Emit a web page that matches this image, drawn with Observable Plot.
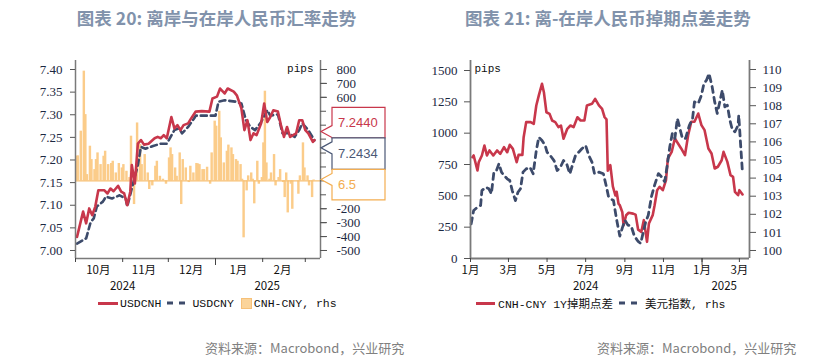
<!DOCTYPE html>
<html><head><meta charset="utf-8">
<script src="https://cdn.jsdelivr.net/npm/d3@7"></script>
<script src="https://cdn.jsdelivr.net/npm/@observablehq/plot@0.6"></script>
<style>
body{margin:0;width:833px;height:359px;position:relative;background:#fff;overflow:hidden;font-family:"Noto Sans CJK SC",sans-serif}
.title{position:absolute;top:8px;line-height:20px;font-size:17.5px;font-weight:bold;color:#8192ab;white-space:nowrap;text-align:center}
.chart{position:absolute;top:0}
.legend{position:absolute;top:296px;height:14px;display:flex;align-items:center;font-family:"Liberation Mono","Noto Sans CJK SC",monospace;font-size:11.5px;color:#111;white-space:nowrap}
.src{position:absolute;top:339px;line-height:18px;font-size:13px;color:#808080;white-space:nowrap}
.sw{display:inline-block}
</style></head><body>
<div class="title" style="left:0;width:433px">图表 20: 离岸与在岸人民币汇率走势</div>
<div class="title" style="left:416px;width:384px">图表 21: 离-在岸人民币掉期点差走势</div>
<div id="c1" class="chart" style="left:0"></div>
<div id="c2" class="chart" style="left:416px"></div>
<div class="legend" style="left:98px">
  <span class="sw" style="width:20px;height:3px;background:#c8374b;margin-right:2px"></span>USDCNH
  <svg class="sw" width="22" height="4" style="margin:0 3px 0 6px"><line x1="0" y1="2" x2="22" y2="2" stroke="#3d4b6b" stroke-width="3" stroke-dasharray="6,6"/></svg>USDCNY
  <span class="sw" style="width:9px;height:9px;background:#fbd49a;border:1px solid #f6c078;margin:0 2px 0 7px"></span>CNH-CNY, rhs
</div>
<div class="legend" style="left:476px">
  <span class="sw" style="width:19px;height:3px;background:#c8374b;margin-right:3px"></span>CNH-CNY 1Y掉期点差
  <svg class="sw" width="20" height="4" style="margin:0 6px 0 6px"><line x1="0" y1="2" x2="20" y2="2" stroke="#3d4b6b" stroke-width="3" stroke-dasharray="6,6"/></svg>美元指数, rhs
</div>
<div class="src" style="left:205px">资料来源：Macrobond，兴业研究</div>
<div class="src" style="left:597px">资料来源：Macrobond，兴业研究</div>
<script>
// ---------- Chart 20 data (days since 2024-10-01) ----------
const cnhDay = [1,5,7,9,11,13,15,19,21,23,25,28,30,32,34,36,37,39,41,43,45,48,52,54,56,58,60,63,65,67,69,71,74,76,79,83,88,90,93,95,98,100,104,106,109,111,113,115,117,119,122,124,126,128,130,133,135,137,139,141,145,147,149,151,153,156,157];
const cnhVal = [7.030,7.086,7.060,7.093,7.078,7.097,7.133,7.133,7.126,7.137,7.131,7.143,7.130,7.126,7.100,7.130,7.189,7.148,7.236,7.244,7.234,7.236,7.248,7.251,7.248,7.255,7.248,7.295,7.270,7.277,7.266,7.277,7.281,7.292,7.307,7.308,7.307,7.336,7.340,7.358,7.347,7.358,7.351,7.343,7.314,7.266,7.288,7.244,7.259,7.255,7.281,7.325,7.284,7.295,7.310,7.307,7.277,7.251,7.273,7.251,7.259,7.288,7.288,7.266,7.259,7.240,7.244];
const cnyDay = [1,7,10,12,14,18,20,24,29,33,34,37,41,43,46,51,56,60,65,68,70,74,78,79,92,94,98,105,109,112,115,118,122,126,128,133,136,140,144,147,149,153,157];
const cnyVal = [7.015,7.027,7.063,7.071,7.097,7.108,7.119,7.115,7.122,7.115,7.097,7.137,7.189,7.229,7.225,7.231,7.236,7.236,7.266,7.270,7.259,7.273,7.292,7.298,7.298,7.329,7.332,7.329,7.325,7.288,7.273,7.266,7.284,7.310,7.298,7.301,7.259,7.259,7.251,7.266,7.281,7.266,7.2434];
const barDay = [0,1,3,5,6,7,9,10,12,13,14,16,18,19,21,23,24,26,28,30,31,33,35,36,38,40,42,43,45,47,48,50,52,53,55,57,58,59,61,62,63,65,66,68,69,70,72,74,75,77,79,80,81,83,84,86,88,89,91,92,94,95,97,99,100,102,103,105,106,108,109,110,112,113,115,116,117,119,120,122,123,124,125,127,128,130,131,133,134,136,137,138,139,141,142,144,146,147,149,150,152,153,155,156];
const barVal = [177,180,357,788,476,45,249,153,81,153,201,117,177,213,117,125,141,57,125,93,117,69,24,321,-170,416,261,117,189,57,-62,-36,105,141,33,12,0,-24,165,237,189,93,33,201,-170,153,93,-12,105,57,125,122,117,81,81,98,-24,201,429,393,500,309,129,213,257,237,189,153,141,117,12,-409,-72,36,57,12,-165,141,-24,24,273,644,129,12,57,189,-36,24,81,-12,-120,57,-230,-24,-204,0,-96,36,273,93,36,-36,-120,6.5];
const leftTicks1 = [7.00,7.05,7.10,7.15,7.20,7.25,7.30,7.35,7.40];
const rightTicks1 = [-500,-400,-300,-200,-100,0,100,200,300,400,500,600,700,800];
const rightLabels1 = [-500,-400,-300,-200,600,700,800]; // the others sit behind the value boxes
const monthStarts1 = ["2024-10-01","2024-11-01","2024-12-01","2025-02-01","2025-03-01"];
const yearStart1 = ["2025-01-01"];
const monthMid1 = ["2024-10-16","2024-11-15","2024-12-16","2025-01-16","2025-02-14"];
const years1 = ["2024","2025"], yearPos1 = ["2024-11-01","2025-02-04"];

// ---------- Chart 21 data (days since 2024-01-01) ----------
const spreadDay = [3,5,11,13,18,22,26,30,36,42,47,53,58,62,67,73,76,82,84,88,95,100,104,108,113,116,120,125,129,134,139,143,147,153,158,163,169,174,180,184,192,197,203,208,212,215,217,221,225,229,231,234,236,240,242,246,250,257,261,265,270,274,279,282,288,291,295,299,304,309,312,318,323,328,333,339,344,349,354,360,365,370,376,381,386,391,397,400,406,411,415,418,423,425,430];
const spreadVal = [808,822,702,768,822,902,822,862,822,862,835,888,848,907,875,768,827,827,968,1088,1088,1074,1221,1301,1394,1327,1167,1154,1101,1088,1048,1061,955,1035,1061,1048,1127,1101,1101,1221,1234,1274,1221,1194,1127,1110,700,745,575,503,532,436,425,369,265,345,365,358,350,230,213,306,133,279,346,425,545,572,545,625,798,851,957,918,878,824,984,1091,1091,1157,1064,1024,878,838,718,732,784,851,771,665,652,532,505,545,511];
const dxyDay = [1,5,11,16,18,24,29,33,37,41,45,49,53,58,62,66,71,75,79,83,88,94,99,104,108,113,118,121,126,132,137,142,147,152,157,161,166,171,176,182,187,192,196,203,210,215,218,221,226,231,236,240,244,249,254,259,265,269,272,277,281,286,291,297,302,307,311,315,319,323,327,331,335,340,346,351,354,360,365,369,373,377,382,386,390,394,398,402,406,410,414,418,423,424,427,430];
const dxyVal = [101.47,102.21,102.39,102.49,103.31,103.50,103.41,103.13,104.33,104.42,104.79,104.33,104.14,103.96,103.87,103.31,102.76,103.22,103.41,104.33,104.51,104.60,104.24,105.52,106.26,106.08,105.80,105.43,105.25,104.97,104.42,104.60,104.97,104.79,104.24,104.70,105.25,105.43,105.62,105.80,105.25,104.88,104.24,104.33,104.24,103.5,103.0,102.87,102.76,101.7,100.8,101.25,101.67,101.4,101.35,100.8,100.5,100.39,100.85,101.59,101.95,102.97,103.61,104.25,104.07,103.80,104.71,105.73,106.46,106.19,107.29,106.74,106.19,106.19,106.92,107.29,108.21,108.12,108.58,109.23,109.41,109.78,109.04,108.21,107.57,108.21,108.86,107.94,108.03,107.20,106.65,106.56,106.92,107.48,105.82,104.25];
const leftTicks2 = [0,250,500,750,1000,1250,1500];
const rightTicks2 = [100,101,102,103,104,105,106,107,108,109,110];
const monthTicks2 = ["2024-01-01","2024-03-01","2024-05-01","2024-07-01","2024-09-01","2024-11-01","2025-01-01","2025-03-01"];
const yearStart2 = ["2025-01-01"];
const years2 = ["2024","2025"], yearPos2 = ["2024-07-01","2025-02-05"];

// ---------- styling ----------
const RED = "#c8374b", NAVY = "#3d4b6b", BAR = "#fbcc8a", BARLINE = "#f7bf72", AXIS = "#7a7a7a";
const TICKFONT = {fontFamily: "Liberation Serif", fontSize: 13};
const MONTHFONT = {fontFamily: "Noto Sans CJK SC", fontSize: 11.5};
const parse = s => new Date(s + "T00:00:00Z");

// ===== Chart 20 =====
const t0L = Date.UTC(2024, 9, 1);
const dayL = d => new Date(t0L + d * 864e5);
const yDomL = [6.9823, 7.4199], yDomR = [-557.5, 864.6];
const toL = p => yDomL[0] + (p - yDomR[0]) * (yDomL[1] - yDomL[0]) / (yDomR[1] - yDomR[0]);
const fromL = v => yDomR[0] + (v - yDomL[0]) * (yDomR[1] - yDomR[0]) / (yDomL[1] - yDomL[0]);
const cnh = cnhDay.map((d, i) => ({date: dayL(d), v: cnhVal[i]}));
const cny = cnyDay.map((d, i) => ({date: dayL(d), v: cnyVal[i]}));
const bars = barDay.map((d, i) => ({x1: dayL(d), x2: dayL(d + 1.6), v: barVal[i]}));

const p1 = Plot.plot({
  width: 416, height: 300, marginTop: 60, marginBottom: 42, marginLeft: 75, marginRight: 96,
  style: {background: "transparent", color: "#1c2841", overflow: "visible"},
  x: {type: "utc", domain: [dayL(0), dayL(161)]},
  y: {domain: yDomL, label: null},
  marks: [
    Plot.rect(bars, {x1: "x1", x2: "x2", y1: () => toL(0), y2: d => toL(d.v), fill: BAR}),
    Plot.ruleY([0], {y: d => toL(d), stroke: BARLINE, strokeWidth: 1.2}),
    Plot.line(cny, {x: "date", y: "v", stroke: NAVY, strokeWidth: 2.6, strokeDasharray: "6,4"}),
    Plot.line(cnh, {x: "date", y: "v", stroke: RED, strokeWidth: 2.6}),
    Plot.ruleX([dayL(0), dayL(161)], {stroke: AXIS, strokeWidth: 1.5}),
    Plot.ruleY([yDomL[0]], {stroke: AXIS, strokeWidth: 1.5}),
    Plot.axisY(leftTicks1, {anchor: "left", tickSize: 5, tickPadding: 8, tickFormat: d => d.toFixed(2), label: null, ...TICKFONT, stroke: "#555"}),
    Plot.ruleY(rightTicks1, {y: d => toL(d), x1: () => dayL(161), x2: () => dayL(161), insetRight: -6, stroke: "#555"}),
    Plot.axisY(rightLabels1.map(toL), {anchor: "right", tickSize: 6, tickPadding: 10, tickFormat: d => String(Math.round(fromL(d))), label: null, ...TICKFONT, stroke: "#555"}),
    Plot.ruleX(monthStarts1, {x: parse, y1: () => yDomL[0], y2: () => yDomL[0], insetBottom: -4, stroke: "#444"}),
    Plot.ruleX(yearStart1, {x: parse, y1: () => yDomL[0], y2: () => yDomL[0], insetBottom: -7, stroke: "#444"}),
    Plot.axisX(monthMid1.map(parse), {tickSize: 0, tickPadding: 7, tickFormat: d => (d.getUTCMonth() + 1) + "月", label: null, ...MONTHFONT, fill: "#111"}),
    Plot.text(years1, {x: (d, i) => parse(yearPos1[i]), text: d => d, frameAnchor: "bottom", dy: 31, ...MONTHFONT, fill: "#111"}),
    Plot.text(["pips"], {text: d => d, frameAnchor: "top-right", dx: -7, dy: 4, fontFamily: "Liberation Mono", fontSize: 11, fill: "#111"})
  ]
});
document.getElementById("c1").appendChild(p1);

// callout boxes for the last values
{
  const ys = p1.scale("y");
  const svg = d3.select(p1);
  const xr = 416 - 96;
  const yA = ys.apply(cnhVal.at(-1)), yB = ys.apply(cnyVal.at(-1)), yC = ys.apply(toL(barVal.at(-1)));
  const top0 = yA - 32.3;
  const boxes = [
    {top: top0, h: 30.5, text: cnhVal.at(-1).toFixed(4), color: RED, tip: yA - 8},
    {top: top0 + 30.5, h: 31.5, text: cnyVal.at(-1).toFixed(4), color: "#4b5876", tip: yB + 8},
    {top: top0 + 62, h: 30.5, text: String(barVal.at(-1)), color: "#f3ad50", tip: yC}
  ];
  const g = svg.append("g");
  for (const b of boxes) {
    const x0 = xr + 12, x1 = x0 + 53, yb = b.top + b.h;
    const d = `M${x0},${b.top}H${x1}V${yb}H${x0}V${Math.min(b.tip + 6, yb)}L${xr + 1},${b.tip}L${x0},${Math.max(b.tip - 6, b.top)}Z`;
    g.append("path").attr("d", d).attr("fill", "white").attr("stroke", b.color).attr("stroke-width", 1.2);
    g.append("text").attr("x", x0 + 6).attr("y", b.top + b.h / 2).attr("dy", "0.35em")
      .attr("text-anchor", "start")
      .attr("fill", b.color).attr("font-family", "Liberation Sans").attr("font-size", 13).text(b.text);
  }
}

// ===== Chart 21 =====
const t0R = Date.UTC(2024, 0, 1);
const dayR = d => new Date(t0R + d * 864e5);
const yDom2L = [0, 1579.8], yDom2R = [99.558, 110.497];
const toL2 = v => yDom2L[0] + (v - yDom2R[0]) * (yDom2L[1] - yDom2L[0]) / (yDom2R[1] - yDom2R[0]);
const fromL2 = v => yDom2R[0] + (v - yDom2L[0]) * (yDom2R[1] - yDom2R[0]) / (yDom2L[1] - yDom2L[0]);
const spread = spreadDay.map((d, i) => ({date: dayR(d), v: spreadVal[i]}));
const dxy = dxyDay.map((d, i) => ({date: dayR(d), v: toL2(dxyVal[i])}));

const p2 = Plot.plot({
  width: 417, height: 300, marginTop: 60, marginBottom: 42, marginLeft: 54, marginRight: 84,
  style: {background: "transparent", color: "#1c2841", overflow: "visible"},
  x: {type: "utc", domain: [dayR(0), dayR(441)]},
  y: {domain: yDom2L, label: null},
  marks: [
    Plot.line(spread, {x: "date", y: "v", stroke: RED, strokeWidth: 2.6}),
    Plot.line(dxy, {x: "date", y: "v", stroke: NAVY, strokeWidth: 2.8, strokeDasharray: "6,5"}),
    Plot.ruleX([dayR(0), dayR(441)], {stroke: AXIS, strokeWidth: 1.8}),
    Plot.ruleY([yDom2L[0]], {stroke: AXIS, strokeWidth: 1.8}),
    Plot.axisY(leftTicks2, {anchor: "left", tickSize: 6, tickPadding: 7, tickFormat: d => String(d), label: null, ...TICKFONT, stroke: "#555"}),
    Plot.axisY(rightTicks2.map(toL2), {anchor: "right", tickSize: 6, tickPadding: 7, tickFormat: d => String(Math.round(fromL2(d))), label: null, ...TICKFONT, stroke: "#555"}),
    Plot.axisX(monthTicks2.map(parse), {tickSize: 4, tickPadding: 3, tickFormat: d => (d.getUTCMonth() + 1) + "月", label: null, ...MONTHFONT, fill: "#111", stroke: "#444"}),
    Plot.ruleX(yearStart2, {x: parse, y1: () => yDom2L[0], y2: () => yDom2L[0], insetBottom: -7, stroke: "#444"}),
    Plot.text(years2, {x: (d, i) => parse(yearPos2[i]), text: d => d, frameAnchor: "bottom", dy: 31, ...MONTHFONT, fill: "#111"}),
    Plot.text(["pips"], {text: d => d, frameAnchor: "top-left", dx: 4, dy: 4, fontFamily: "Liberation Mono", fontSize: 11, fill: "#111"})
  ]
});
document.getElementById("c2").appendChild(p2);
</script>
</body></html>
